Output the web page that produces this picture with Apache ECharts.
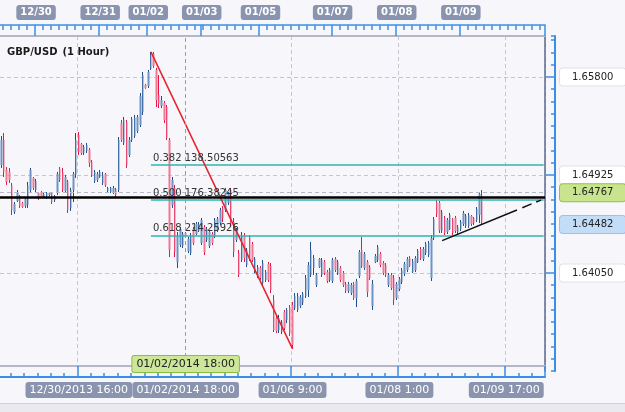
<!DOCTYPE html>
<html>
<head>
<meta charset="utf-8">
<title>GBP/USD (1 Hour)</title>
<script src="https://cdn.jsdelivr.net/npm/echarts@6.0.0/dist/echarts.min.js"></script>
<style>
    html, body { margin: 0; padding: 0; background: #f7f7fb; }
    #chart { width: 625px; height: 412px; }
</style>
</head>
<body>
<div id="chart"></div>
<script>
// hourly bars: [open, close, low, high]
const ohlc = [
    [1.65014, 1.65238, 1.64988, 1.65273], [1.65238, 1.64952, 1.64907, 1.65300], [1.64970, 1.64863, 1.64836, 1.64996],
    [1.64952, 1.64881, 1.64854, 1.64988], [1.64836, 1.64613, 1.64568, 1.64854], [1.64595, 1.64666, 1.64577, 1.64684],
    [1.64693, 1.64773, 1.64684, 1.64791], [1.64737, 1.64648, 1.64631, 1.64746], [1.64675, 1.64639, 1.64631, 1.64684],
    [1.64648, 1.64711, 1.64631, 1.64720], [1.64657, 1.64836, 1.64631, 1.64863], [1.64791, 1.64970, 1.64764, 1.64988],
    [1.64899, 1.64810, 1.64791, 1.64907], [1.64791, 1.64872, 1.64764, 1.64890], [1.64764, 1.64720, 1.64702, 1.64773],
    [1.64773, 1.64728, 1.64720, 1.64782], [1.64728, 1.64755, 1.64720, 1.64764], [1.64737, 1.64764, 1.64711, 1.64773],
    [1.64746, 1.64764, 1.64737, 1.64773], [1.64764, 1.64684, 1.64666, 1.64773], [1.64702, 1.64737, 1.64684, 1.64746],
    [1.64764, 1.64934, 1.64746, 1.64952], [1.64979, 1.64881, 1.64863, 1.64996], [1.64952, 1.64791, 1.64773, 1.64988],
    [1.64782, 1.64907, 1.64764, 1.64925], [1.64863, 1.64613, 1.64586, 1.64881], [1.64631, 1.64791, 1.64604, 1.64810],
    [1.64791, 1.64934, 1.64684, 1.64952], [1.64925, 1.65238, 1.64899, 1.65300], [1.65282, 1.65131, 1.65104, 1.65309],
    [1.65202, 1.65122, 1.65104, 1.65211], [1.65122, 1.65175, 1.65104, 1.65193], [1.65140, 1.65193, 1.65122, 1.65211],
    [1.65149, 1.65032, 1.64996, 1.65167], [1.65041, 1.64925, 1.64907, 1.65059], [1.64872, 1.64952, 1.64854, 1.64970],
    [1.64881, 1.64934, 1.64863, 1.64952], [1.64907, 1.64952, 1.64899, 1.64970], [1.64854, 1.64925, 1.64836, 1.64952],
    [1.64934, 1.64836, 1.64818, 1.64943], [1.64782, 1.64810, 1.64773, 1.64818], [1.64773, 1.64810, 1.64764, 1.64818],
    [1.64773, 1.64810, 1.64755, 1.64827], [1.64800, 1.64746, 1.64728, 1.64810], [1.64791, 1.65238, 1.64773, 1.65264],
    [1.65389, 1.65238, 1.65220, 1.65416], [1.65211, 1.65416, 1.65193, 1.65443], [1.65398, 1.65014, 1.64988, 1.65416],
    [1.65104, 1.65238, 1.65086, 1.65264], [1.65238, 1.65426, 1.65220, 1.65443], [1.65273, 1.65435, 1.65256, 1.65461],
    [1.65318, 1.65443, 1.65300, 1.65461], [1.65371, 1.65630, 1.65353, 1.65657], [1.65488, 1.65818, 1.65461, 1.65845],
    [1.65729, 1.65702, 1.65694, 1.65738], [1.65720, 1.65845, 1.65702, 1.65863], [1.65872, 1.65997, 1.65863, 1.66024],
    [1.66006, 1.65898, 1.65881, 1.66024], [1.65863, 1.65595, 1.65532, 1.65881], [1.65640, 1.65559, 1.65523, 1.65818],
    [1.65541, 1.65595, 1.65523, 1.65630], [1.65568, 1.65416, 1.65389, 1.65586], [1.65532, 1.65256, 1.65238, 1.65550],
    [1.65238, 1.64255, 1.64192, 1.65256], [1.64657, 1.64881, 1.64631, 1.64907], [1.64810, 1.64237, 1.64192, 1.64836],
    [1.64148, 1.64380, 1.64095, 1.64416], [1.64300, 1.64443, 1.64282, 1.64461], [1.64291, 1.64398, 1.64273, 1.64416],
    [1.64407, 1.64371, 1.64362, 1.64416], [1.64246, 1.64354, 1.64228, 1.64371], [1.64228, 1.64380, 1.64210, 1.64407],
    [1.64443, 1.64318, 1.64300, 1.64461], [1.64398, 1.64487, 1.64389, 1.64505], [1.64425, 1.64487, 1.64416, 1.64505],
    [1.64318, 1.64523, 1.64300, 1.64541], [1.64461, 1.64237, 1.64210, 1.64478], [1.64345, 1.64443, 1.64327, 1.64461],
    [1.64291, 1.64416, 1.64273, 1.64434], [1.64398, 1.64318, 1.64300, 1.64416], [1.64380, 1.64523, 1.64362, 1.64541],
    [1.64434, 1.64532, 1.64416, 1.64550], [1.64496, 1.64613, 1.64478, 1.64631], [1.64631, 1.64541, 1.64505, 1.64648],
    [1.64613, 1.64791, 1.64595, 1.64810], [1.64675, 1.64755, 1.64657, 1.64773], [1.64791, 1.64487, 1.64461, 1.64810],
    [1.64505, 1.64237, 1.64192, 1.64541], [1.64345, 1.64434, 1.64327, 1.64452], [1.64228, 1.64032, 1.64014, 1.64255],
    [1.64166, 1.64389, 1.64148, 1.64416], [1.64389, 1.64184, 1.64148, 1.64407], [1.64121, 1.64255, 1.64103, 1.64273],
    [1.64371, 1.64184, 1.64157, 1.64389], [1.64309, 1.64166, 1.64148, 1.64327], [1.64068, 1.64175, 1.64050, 1.64192],
    [1.64023, 1.64103, 1.64005, 1.64121], [1.64095, 1.64005, 1.63988, 1.64112], [1.63961, 1.64139, 1.63943, 1.64166],
    [1.63988, 1.64059, 1.63970, 1.64077], [1.64130, 1.63988, 1.63970, 1.64148], [1.64112, 1.63898, 1.63871, 1.64139],
    [1.63809, 1.63541, 1.63523, 1.63853], [1.63648, 1.63532, 1.63514, 1.63666], [1.63541, 1.63648, 1.63514, 1.63675],
    [1.63523, 1.63612, 1.63505, 1.63630], [1.63702, 1.63559, 1.63541, 1.63720], [1.63630, 1.63720, 1.63603, 1.63737],
    [1.63746, 1.63514, 1.63488, 1.63764], [1.63764, 1.63407, 1.63372, 1.63791], [1.63737, 1.63844, 1.63720, 1.63871],
    [1.63720, 1.63844, 1.63702, 1.63871], [1.63755, 1.63836, 1.63737, 1.63853], [1.63782, 1.63862, 1.63764, 1.63880],
    [1.63844, 1.64005, 1.63827, 1.64032], [1.63898, 1.64121, 1.63836, 1.64148], [1.64032, 1.64255, 1.64014, 1.64327],
    [1.64095, 1.64184, 1.64032, 1.64210], [1.63943, 1.64032, 1.63925, 1.64050], [1.64103, 1.64175, 1.64095, 1.64184],
    [1.64032, 1.64166, 1.64014, 1.64184], [1.64148, 1.64050, 1.64032, 1.64166], [1.64059, 1.63979, 1.63961, 1.64077],
    [1.63988, 1.64077, 1.63970, 1.64095], [1.63979, 1.64166, 1.63961, 1.64184], [1.64175, 1.64077, 1.64059, 1.64192],
    [1.64050, 1.64148, 1.64032, 1.64166], [1.64095, 1.63988, 1.63970, 1.64112], [1.64050, 1.63943, 1.63925, 1.64068],
    [1.63952, 1.63889, 1.63871, 1.63970], [1.63889, 1.63952, 1.63871, 1.63970], [1.63871, 1.63943, 1.63853, 1.63961],
    [1.63952, 1.63827, 1.63809, 1.63970], [1.63827, 1.63979, 1.63746, 1.63997], [1.64023, 1.64237, 1.64005, 1.64255],
    [1.64255, 1.64112, 1.64095, 1.64371], [1.64095, 1.64219, 1.64077, 1.64237], [1.64148, 1.63880, 1.63836, 1.64166],
    [1.64103, 1.64005, 1.63988, 1.64121], [1.63755, 1.63952, 1.63720, 1.63988], [1.64148, 1.64201, 1.64139, 1.64219],
    [1.64166, 1.64282, 1.64148, 1.64300], [1.64219, 1.64121, 1.64103, 1.64237], [1.64139, 1.64050, 1.64032, 1.64157],
    [1.64121, 1.64032, 1.64014, 1.64139], [1.63943, 1.64032, 1.63925, 1.64050], [1.64032, 1.63916, 1.63898, 1.64050],
    [1.64005, 1.63809, 1.63764, 1.64032], [1.63827, 1.63952, 1.63809, 1.63970], [1.63907, 1.63997, 1.63889, 1.64014],
    [1.63970, 1.64077, 1.63952, 1.64095], [1.64041, 1.64130, 1.64023, 1.64148], [1.64077, 1.64175, 1.64059, 1.64192],
    [1.64184, 1.64112, 1.64103, 1.64201], [1.64059, 1.64157, 1.64050, 1.64175], [1.64077, 1.64184, 1.64059, 1.64201],
    [1.64148, 1.64246, 1.64139, 1.64264], [1.64264, 1.64184, 1.64166, 1.64282], [1.64175, 1.64264, 1.64157, 1.64282],
    [1.64228, 1.64309, 1.64210, 1.64327], [1.64210, 1.64318, 1.64192, 1.64336], [1.64005, 1.64362, 1.63979, 1.64389],
    [1.64362, 1.64532, 1.64345, 1.64550], [1.64684, 1.64577, 1.64550, 1.64702], [1.64675, 1.64434, 1.64407, 1.64693],
    [1.64425, 1.64595, 1.64407, 1.64613], [1.64541, 1.64407, 1.64389, 1.64559], [1.64416, 1.64523, 1.64398, 1.64541],
    [1.64443, 1.64568, 1.64434, 1.64586], [1.64532, 1.64407, 1.64389, 1.64541], [1.64541, 1.64425, 1.64407, 1.64559],
    [1.64416, 1.64461, 1.64398, 1.64478], [1.64443, 1.64505, 1.64425, 1.64523], [1.64487, 1.64586, 1.64470, 1.64604],
    [1.64470, 1.64559, 1.64452, 1.64577], [1.64470, 1.64568, 1.64452, 1.64586], [1.64559, 1.64487, 1.64470, 1.64568],
    [1.64541, 1.64496, 1.64478, 1.64550], [1.64523, 1.64622, 1.64505, 1.64639], [1.64568, 1.64755, 1.64496, 1.64773],
    [1.64737, 1.64505, 1.64487, 1.64791]
];

// one slot per hour on screen (the right part stays empty)
const slotCount = 204;
const categories = [];
for (let i = 0; i < slotCount; i++) categories.push(String(i));

const topTickIdx = [13, 37, 55, 75, 97, 124, 148, 172];
const topTickText = ['12/30', '12/31', '01/02', '01/03', '01/05', '01/07', '01/08', '01/09'];
const bottomTickIdx = [29, 69, 109, 149, 189];
const bottomTickText = ['12/30/2013 16:00', '01/02/2014 18:00', '01/06 9:00', '01/08 1:00', '01/09 17:00'];
const cursorIdx = 69;
const cursorText = '01/02/2014 18:00';

const priceMin = 1.63175;
const priceMax = 1.66166;
const priceStep = 0.00875;
const priceMinorStep = 0.00109375;

const fibRatios = ['0.382', '0.500', '0.618'];
const fibValues = ['138.50563', '176.38245', '214.25926'];
const fibPrices = [1.65015, 1.64700, 1.64386];
const fibStart = 56;
const fibEnd = 203;

const redTrend = [[56, 1.66024], [109, 1.63372]];
const supportTrend = [[165, 1.64339], [193, 1.64613]];
const supportExt = [[195, 1.64633], [202, 1.64701]];
const blackLevel = 1.64722;
const bidPrice = 1.64767;
const askPrice = 1.64482;

const font = 'DejaVu Sans';
const blue = '#3a8ee6';
const gridGray = '#c6c6d0';
const tagGray = '#8a94af';

const bullLight = '#6f93c3', bullDark = '#1c4c8c';
const bearLight = '#f07893', bearDark = '#e3164a';

const dom = document.getElementById('chart');
const myChart = echarts.init(dom);

const fibLines = fibPrices.map((p, k) => [
    {
        coord: [fibStart, p],
        lineStyle: {color: '#2fb5b3', width: 1.5, type: 'solid'},
        label: {show: true, position: 'insideStartTop', distance: 2, formatter: fibRatios[k] + ' ' + fibValues[k],
            color: '#333', fontSize: 10, fontFamily: font}
    },
    {coord: [fibEnd, p]}
]);

const priceTag = (text, bg, border) => ({
    show: true, position: 'end', distance: 15, formatter: text,
    backgroundColor: bg, borderColor: border, borderWidth: 1, borderRadius: 3,
    padding: [3, 12], color: '#222', fontSize: 10, lineHeight: 11, fontFamily: font
});

let option = {
    backgroundColor: '#f7f7fb',
    animation: false,
    title: {
        left: 2, top: 38,
        text: '{b|GBP/USD} {n|(1 Hour)}',
        textStyle: {
            rich: {
                b: {fontFamily: font, fontSize: 10, fontWeight: 'bold', color: '#1a1a1a'},
                n: {fontFamily: font, fontSize: 10, color: '#1a1a1a'}
            }
        }
    },
    graphic: [
        {type: 'rect', left: 0, top: 403, shape: {width: 625, height: 9}, style: {fill: '#e9e9ef'}},
        {type: 'rect', left: 0, top: 403, shape: {width: 625, height: 1}, style: {fill: '#d2d2da'}}
    ],
    grid: {left: 0, right: 80, top: 36, bottom: 41, containLabel: false, outerBoundsMode: 'none'},
    xAxis: [
        {
            // plot bottom edge, vertical grid, cursor
            type: 'category', data: categories, position: 'bottom', offset: -5,
            axisLine: {onZero: false, lineStyle: {color: '#b3b7c7', width: 2}},
            axisTick: {show: false}, axisLabel: {show: false},
            splitLine: {
                show: true,
                interval: (i) => bottomTickIdx.includes(i) && i !== cursorIdx,
                lineStyle: {color: gridGray, type: [4, 3]}
            },
            axisPointer: {
                show: true, type: 'line', value: cursorIdx, status: 'show', snap: false, triggerTooltip: false,
                lineStyle: {color: '#9a9aa8', type: [4, 3], width: 1},
                label: {
                    show: true, formatter: () => cursorText, margin: -10,
                    backgroundColor: '#cce69a', borderColor: '#8dbd45', borderWidth: 1, borderRadius: 2,
                    padding: [2, 4], color: '#222', fontSize: 11, lineHeight: 12, fontFamily: font, shadowBlur: 0
                }
            }
        },
        {
            // bottom ruler, small ticks
            type: 'category', data: categories, position: 'bottom', offset: 6,
            axisLine: {onZero: false, lineStyle: {color: blue, width: 2}},
            axisTick: {show: true, inside: true, length: 4, interval: (i) => i % 5 === 4, lineStyle: {color: blue, width: 1.5}},
            axisLabel: {show: false}, splitLine: {show: false}
        },
        {
            // bottom ruler, labelled ticks
            type: 'category', data: categories, position: 'bottom', offset: 6,
            axisLine: {show: false, onZero: false},
            axisTick: {show: true, inside: true, length: 11, interval: (i) => bottomTickIdx.includes(i), lineStyle: {color: blue, width: 1.5}},
            axisLabel: {
                show: true, interval: (i) => bottomTickIdx.includes(i),
                formatter: (v) => bottomTickText[bottomTickIdx.indexOf(Number(v))],
                margin: 5, backgroundColor: tagGray, borderRadius: 3, padding: [2, 4],
                color: '#fff', fontSize: 11, lineHeight: 12, fontFamily: font
            },
            splitLine: {show: false}
        },
        {
            // top ruler, small ticks
            type: 'category', data: categories, position: 'top', offset: 11,
            axisLine: {onZero: false, lineStyle: {color: blue, width: 1.5}},
            axisTick: {show: true, inside: true, length: 5, interval: (i) => i % 3 === 1, lineStyle: {color: blue, width: 1.5}},
            axisLabel: {show: false}, splitLine: {show: false}
        },
        {
            // top ruler, labelled ticks
            type: 'category', data: categories, position: 'top', offset: 11,
            axisLine: {show: false, onZero: false},
            axisTick: {show: true, inside: true, length: 11, interval: (i) => topTickIdx.includes(i), lineStyle: {color: blue, width: 1.5}},
            axisLabel: {
                show: true, interval: (i) => topTickIdx.includes(i),
                formatter: (v) => topTickText[topTickIdx.indexOf(Number(v))],
                margin: 5, backgroundColor: tagGray, borderRadius: 3, padding: [2, 4],
                color: '#fff', fontSize: 10, fontWeight: 'bold', lineHeight: 11, fontFamily: font
            },
            splitLine: {show: false}
        },
        {
            // plot top edge
            type: 'category', data: categories, position: 'top', offset: 0,
            axisLine: {onZero: false, lineStyle: {color: '#b3b7c7', width: 2}},
            axisTick: {show: false}, axisLabel: {show: false}, splitLine: {show: false}
        }
    ],
    yAxis: [
        {
            type: 'value', position: 'right', offset: 10,
            min: priceMin, max: priceMax, interval: priceStep,
            axisLine: {show: true, onZero: false, lineStyle: {color: blue, width: 2}},
            axisTick: {show: true, inside: true, length: 10, lineStyle: {color: blue, width: 1.5}},
            axisLabel: {
                showMinLabel: false, showMaxLabel: false,
                formatter: (v) => v.toFixed(5),
                margin: 5, backgroundColor: '#fff', borderColor: '#e0e1e9', borderWidth: 1, borderRadius: 3,
                padding: [3, 12], color: '#222', fontSize: 10, lineHeight: 11, fontFamily: font
            },
            splitLine: {show: true, showMinLine: false, showMaxLine: false, lineStyle: {color: gridGray, type: [4, 3]}}
        },
        {
            type: 'value', position: 'right', offset: 10,
            min: priceMin, max: priceMax, interval: priceMinorStep,
            axisLine: {show: false},
            axisTick: {show: true, inside: true, length: 4, lineStyle: {color: blue, width: 1.5}},
            axisLabel: {show: false}, splitLine: {show: false}
        },
        {
            type: 'value', position: 'right', offset: 0,
            min: priceMin, max: priceMax,
            axisLine: {show: true, onZero: false, lineStyle: {color: '#5b6b8c', width: 1.5}},
            axisTick: {show: false}, axisLabel: {show: false}, splitLine: {show: false}
        }
    ],
    series: [
        {
            name: 'wick', type: 'candlestick', data: ohlc, barWidth: 1, silent: true, z: 2,
            itemStyle: {color: bullDark, color0: bearDark, borderColor: bullDark, borderColor0: bearDark, borderWidth: 1}
        },
        {
            name: 'body', type: 'candlestick', data: ohlc, barWidth: 2, silent: true, z: 3,
            itemStyle: {color: bullLight, color0: bearLight, borderColor: bullLight, borderColor0: bearLight, borderWidth: 0},
            markLine: {
                silent: true, animation: false, symbol: ['none', 'none'], precision: 5,
                label: {show: false},
                data: [
                    ...fibLines,
                    [
                        {coord: redTrend[0], lineStyle: {color: '#e8202a', width: 1.5, type: 'solid'}},
                        {coord: redTrend[1]}
                    ],
                    [
                        {coord: supportTrend[0], lineStyle: {color: '#111', width: 1.5, type: 'solid'}},
                        {coord: supportTrend[1]}
                    ],
                    [
                        {coord: supportExt[0], lineStyle: {color: '#111', width: 1.5, type: [10, 5]}},
                        {coord: supportExt[1]}
                    ]
                ]
            }
        },
        {
            // horizontal levels across the whole plot
            name: 'levels', type: 'line', data: [], xAxisIndex: 0, yAxisIndex: 0, silent: true, z: 4,
            markLine: {
                silent: true, animation: false, symbol: ['none', 'none'], precision: 5,
                label: {show: false},
                data: [
                    {yAxis: bidPrice, lineStyle: {color: '#b6b9c7', type: [4, 3], width: 1}, label: priceTag(bidPrice.toFixed(5), '#c9e48f', '#93c24b')},
                    {yAxis: askPrice, lineStyle: {width: 0}, label: priceTag(askPrice.toFixed(5), '#c3dcf7', '#9cc2ec')},
                    {yAxis: blackLevel, lineStyle: {color: '#000', width: 2.5, type: 'solid'}, label: {show: false}}
                ]
            }
        }
    ]
};
myChart.setOption(option);
</script>
</body>
</html>
